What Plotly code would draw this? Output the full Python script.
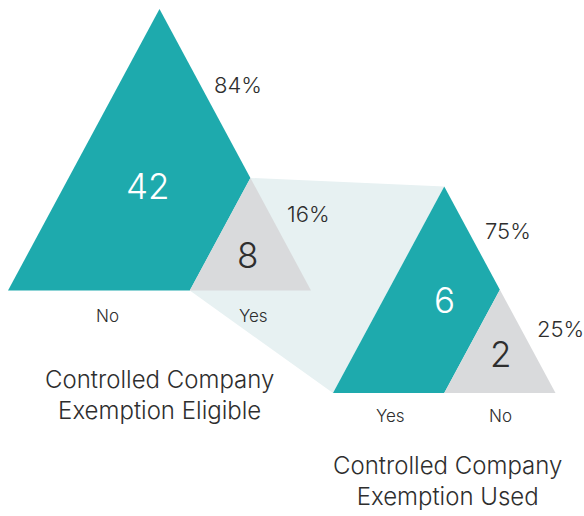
import math
import plotly.graph_objects as go

# ---- data ----
eligible_labels = ["No", "Yes"]
eligible_counts = [42, 8]
used_labels = ["Yes", "No"]
used_counts = [6, 2]
eligible_title = "Controlled Company<br>Exemption Eligible"
used_title = "Controlled Company<br>Exemption Used"

# ---- style ----
TEAL = "#1EAAAD"
GREY = "#D9DADC"
BAND = "#E7F1F2"
TXT = "#2E2E2E"
FONT = "Inter"

W, H = 584, 516

# triangle frames (layout): left x, base y, width, height
tri1 = dict(left=8, base=290.5, width=303, height=281.5)
tri2 = dict(left=333, base=393, width=222.5, height=206.5)


def geometry(t, counts):
    share = counts[1] / sum(counts)
    f = math.sqrt(share)  # area of the grey corner = share of total
    L, B, Wd, Ht = t["left"], t["base"], t["width"], t["height"]
    apex = (L + Wd / 2, B - Ht)
    right = (L + Wd, B)
    left = (L, B)
    gl = (L + Wd * (1 - f), B)
    split = (L + Wd * (1 - f / 2), B - Ht * f)
    return dict(apex=apex, right=right, left=left, gl=gl, split=split, share=share)


g1 = geometry(tri1, eligible_counts)
g2 = geometry(tri2, used_counts)

fig = go.Figure()


def poly(pts, color):
    xs = [p[0] for p in pts] + [pts[0][0]]
    ys = [p[1] for p in pts] + [pts[0][1]]
    fig.add_trace(go.Scatter(x=xs, y=ys, fill="toself", fillcolor=color,
                             mode="lines", line=dict(width=0, color=color),
                             hoverinfo="skip", showlegend=False))


# connecting band (behind)
poly([g1["split"], g2["apex"], g2["left"], g1["gl"]], BAND)
# triangle 1
poly([g1["left"], g1["apex"], g1["split"], g1["gl"]], TEAL)
poly([g1["gl"], g1["split"], g1["right"]], GREY)
# triangle 2
poly([g2["left"], g2["apex"], g2["split"], g2["gl"]], TEAL)
poly([g2["gl"], g2["split"], g2["right"]], GREY)

ann = []


def txt(x, y, s, size, color=TXT):
    ann.append(dict(x=x, y=y, text=s, showarrow=False, xref="x", yref="y",
                    xanchor="center", yanchor="middle",
                    font=dict(family=FONT, size=size, color=color, weight=300)))


def pct(v, tot):
    return f"{round(100 * v / tot)}%"


t1 = sum(eligible_counts)
t2 = sum(used_counts)

# triangle 1 labels
txt(148, 186, str(eligible_counts[0]), 35, "white")
txt(247, 255, str(eligible_counts[1]), 35)
txt(238, 85, pct(eligible_counts[0], t1), 22)
txt(308, 214, pct(eligible_counts[1], t1), 22)
txt(107, 316, eligible_labels[0], 17)
txt(253, 316, eligible_labels[1], 17)
txt(159, 395, eligible_title, 24)

# triangle 2 labels
txt(444, 300, str(used_counts[0]), 35, "white")
txt(500, 354, str(used_counts[1]), 35)
txt(508, 231, pct(used_counts[0], t2), 22)
txt(560, 329, pct(used_counts[1], t2), 22)
txt(390, 416, used_labels[0], 17)
txt(500, 416, used_labels[1], 17)
txt(447, 481, used_title, 24)

fig.update_layout(
    width=W, height=H,
    margin=dict(l=0, r=0, t=0, b=0),
    paper_bgcolor="white", plot_bgcolor="white",
    xaxis=dict(range=[0, W], visible=False, fixedrange=True),
    yaxis=dict(range=[H, 0], visible=False, fixedrange=True),
    annotations=ann,
    showlegend=False,
)

fig.write_html("out.html")
